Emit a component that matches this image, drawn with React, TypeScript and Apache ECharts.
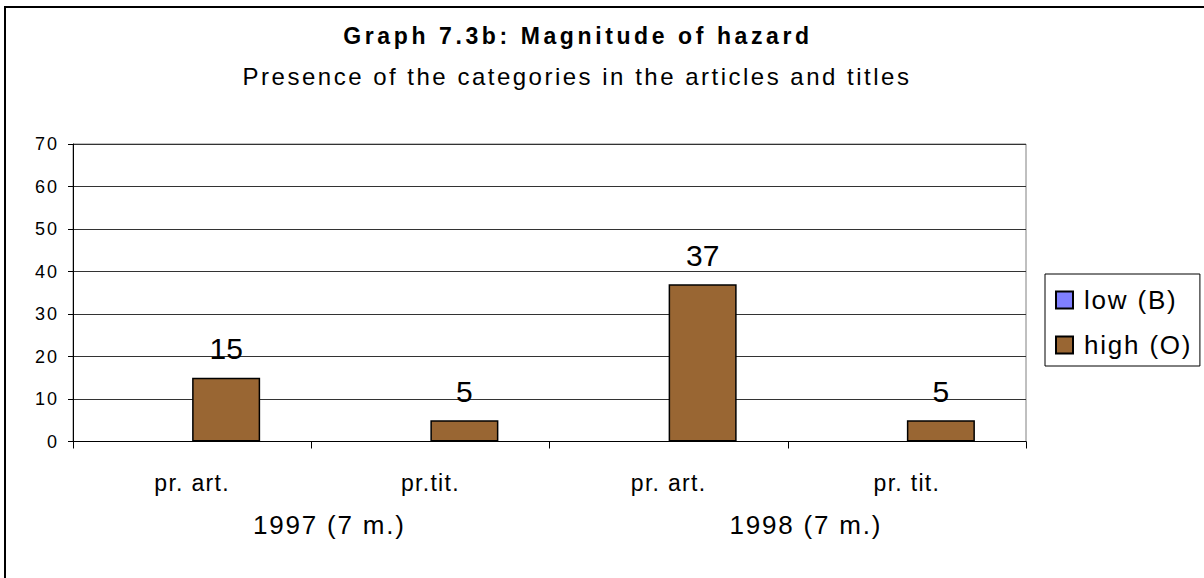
import React, { useEffect, useRef } from "react";
import * as echarts from "echarts";

const categories = ["pr. art.", "pr.tit.", "pr. art.", "pr. tit."];
const groups = ["1997 (7 m.)", "1998 (7 m.)"];
const lowValues = [0, 0, 0, 0];
const highValues = [15, 5, 37, 5];
const seriesNames = ["low (B)", "high (O)"];
const titleText = "Graph 7.3b: Magnitude of hazard";
const subtitleText = "Presence of the categories in the articles and titles";

const FONT = "'Liberation Sans', Arial, sans-serif";

const css = `
#chart-root text[style*="24px"] { letter-spacing: 2.5px; }
#chart-root text[style*="23px"] { letter-spacing: 1.3px; }
#chart-root text[style*="26px"] { letter-spacing: 1.8px; }
#chart-root text[style*="18px"] { letter-spacing: 2px; }
#chart-root text[style*="bold"] { letter-spacing: 3.6px; }
`;

export default function App() {
  const ref = useRef<HTMLDivElement>(null);
  useEffect(() => {
    document.body.style.margin = "0";
    const chart = echarts.init(ref.current!, null, { renderer: "svg" });
    chart.setOption({
      animation: false,
      backgroundColor: "#ffffff",
      textStyle: { fontFamily: FONT },
      graphic: [
        {
          type: "rect",
          shape: { x: 5, y: 7, width: 1400, height: 800 },
          style: { fill: "none", stroke: "#000", lineWidth: 2 },
          silent: true,
        },
        {
          type: "text",
          x: 578,
          y: 36,
          style: {
            text: titleText,
            textAlign: "center",
            textVerticalAlign: "middle",
            fontFamily: FONT,
            fontWeight: "bold",
            fontSize: 23,
            fill: "#000",
          },
        },
        {
          type: "text",
          x: 577,
          y: 76,
          style: {
            text: subtitleText,
            textAlign: "center",
            textVerticalAlign: "middle",
            fontFamily: FONT,
            fontSize: 24,
            fill: "#000",
          },
        },
      ],
      legend: {
        orient: "vertical",
        left: 1045,
        top: 274,
        padding: [13, 22, 8, 10],
        itemGap: 19,
        itemWidth: 17,
        itemHeight: 17,
        icon: "rect",
        borderColor: "#000",
        borderWidth: 1,
        textStyle: { fontSize: 26, color: "#000", fontFamily: FONT, padding: [0, 0, 0, 6] },
        data: seriesNames,
      },
      grid: {
        left: 73,
        right: 178,
        top: 144,
        bottom: 136.5,
        show: true,
        borderColor: "#808080",
        borderWidth: 1,
        containLabel: false,
      },
      xAxis: [
        {
          type: "category",
          data: categories,
          axisLine: { lineStyle: { color: "#000", width: 1 } },
          axisTick: { show: true, length: 7, lineStyle: { color: "#000" } },
          axisLabel: { fontSize: 23, color: "#000", margin: 30, interval: 0 },
          splitLine: { show: false },
        },
        {
          type: "category",
          data: groups,
          position: "bottom",
          axisLine: { show: false },
          axisTick: { show: false },
          axisLabel: {
            fontSize: 26,
            color: "#000",
            margin: 70,
            interval: 0,
            padding: [0, 0, 0, 36],
          },
          splitLine: { show: false },
        },
      ],
      yAxis: {
        type: "value",
        min: 0,
        max: 70,
        interval: 10,
        axisLine: { show: true, lineStyle: { color: "#000" } },
        axisTick: { show: true, length: 5, lineStyle: { color: "#000" } },
        axisLabel: { fontSize: 18, color: "#000", margin: 14 },
        splitLine: { lineStyle: { color: "#333", width: 1 } },
      },
      series: [
        {
          name: seriesNames[0],
          type: "bar",
          data: lowValues,
          barGap: "0%",
          barCategoryGap: "42.9%",
          itemStyle: { color: "#8080ff", borderColor: "#000", borderWidth: 1 },
          label: { show: false },
        },
        {
          name: seriesNames[1],
          type: "bar",
          data: highValues,
          barGap: "0%",
          barCategoryGap: "42.9%",
          itemStyle: { color: "#996633", borderColor: "#000", borderWidth: 1.5 },
          label: { show: true, position: "top", distance: 14, fontSize: 30, color: "#000" },
        },
      ],
    });
    return () => chart.dispose();
  }, []);
  return (
    <>
      <style>{css}</style>
      <div id="chart-root" ref={ref} style={{ width: 1204, height: 578 }} />
    </>
  );
}
